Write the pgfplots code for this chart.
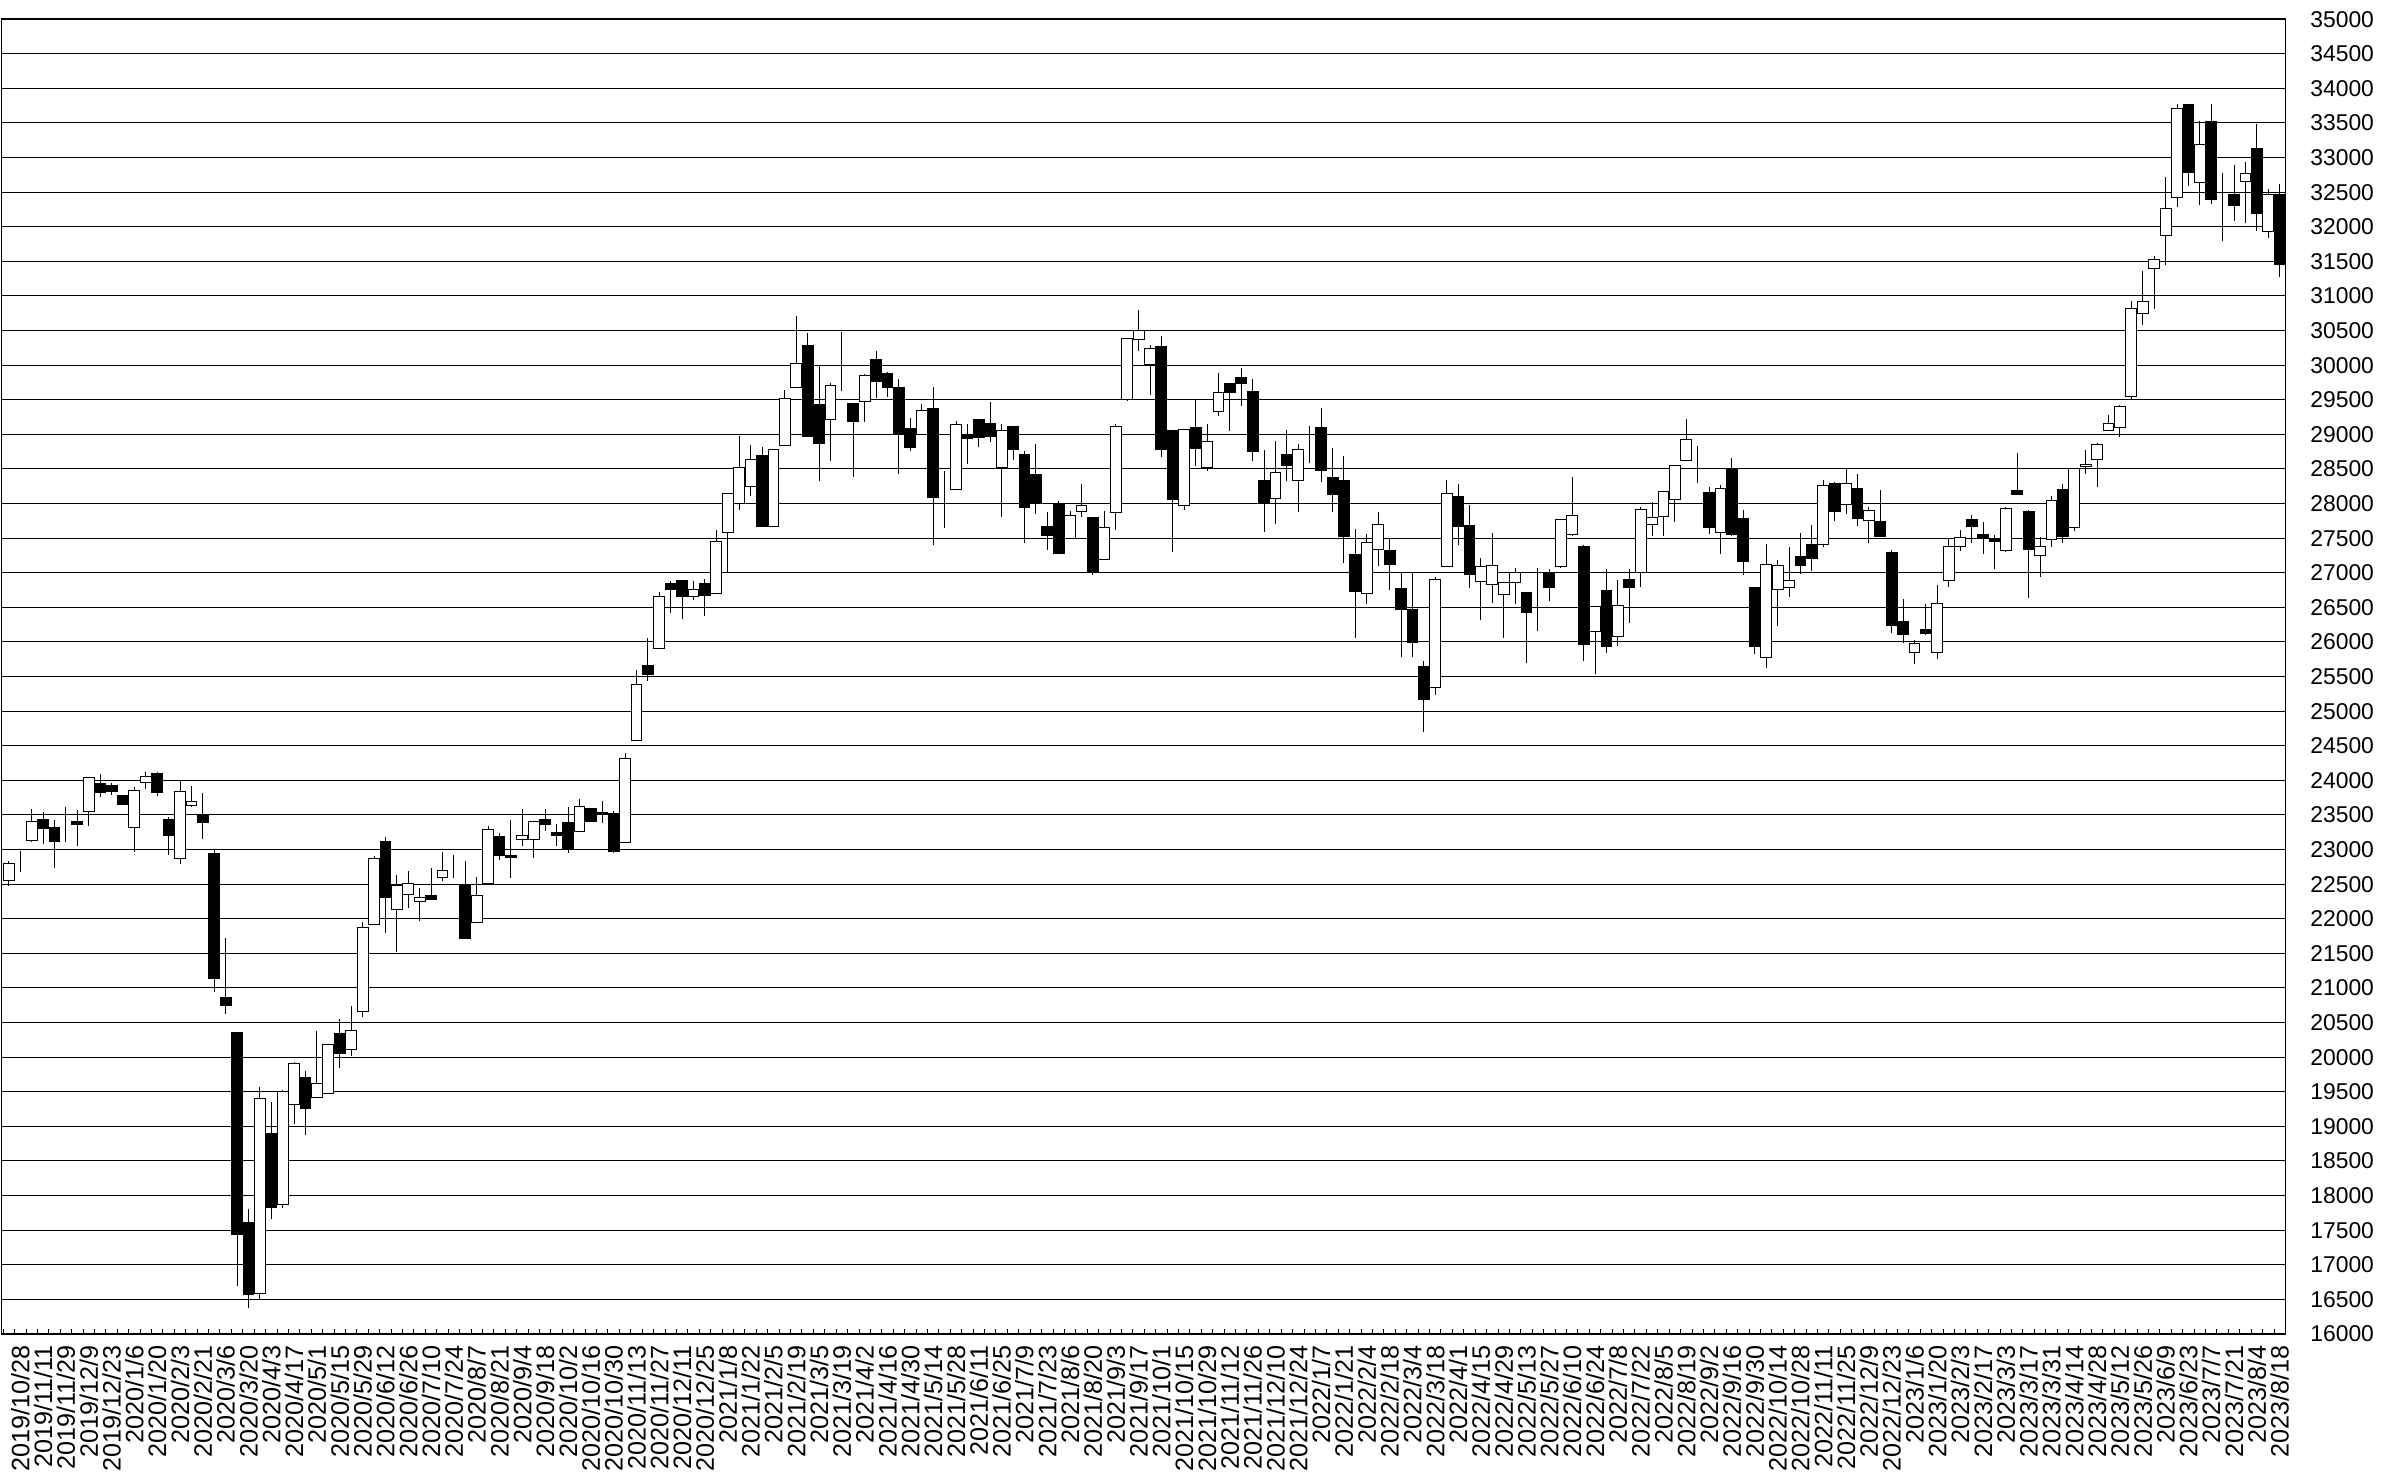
\documentclass[border=0pt]{standalone}
\usepackage{pgfplots}
\usepackage{pgfplotstable}
\pgfplotsset{compat=1.18}
\usepackage{fontspec}
\setmainfont{Liberation Sans}

% weekly candles: x o h l c
\pgfplotstableread{
x o h l c
0 22550 22830 22470 22800
1 22860 22980 22680 22860
2 23125 23590 23105 23400
3 23435 23545 23075 23305
4 23315 23425 22730 23115
5 23295 23615 23115 23295
6 23400 23570 23055 23365
7 23545 24055 23345 24035
8 23960 24095 23760 23820
9 23930 23965 23795 23835
10 23785 23785 23655 23655
11 23320 23905 22970 23855
12 23965 24120 23880 24050
13 24095 24120 23775 23825
14 23440 23475 22915 23210
15 22875 24000 22790 23835
16 23640 23915 23615 23690
17 23505 23810 23150 23390
18 22950 22990 20935 21140
19 20860 21720 20630 20750
20 20350 20350 16700 17440
21 17605 17800 16375 16565
22 16580 19570 16495 19400
23 18900 19355 17655 17825
24 17870 19520 17825 19510
25 19320 19930 19035 19905
26 19705 19800 18875 19260
27 19415 20375 19415 19625
28 19475 20190 19465 20190
29 20345 20550 19845 20050
30 20105 20740 20015 20390
31 20655 21960 20585 21875
32 21915 22910 21915 22870
33 23120 23180 21795 22305
34 22135 22625 21525 22475
35 22350 22695 22160 22515
36 22255 22450 21970 22310
37 22340 22735 22280 22285
38 22590 22960 22540 22695
39 22765 22925 22590 22765
40 22495 22840 21710 21710
41 21940 22605 21940 22330
42 22505 23335 22505 23285
43 23185 23240 22850 22915
44 22920 23420 22595 22880
45 23140 23585 23055 23205
46 23140 23400 22875 23400
47 23430 23585 23275 23355
48 23250 23370 23050 23200
49 23390 23615 22950 23020
50 23260 23725 23260 23615
51 23595 23595 23400 23400
52 23535 23705 23385 23510
53 23520 23560 22950 22970
54 23105 24390 23105 24320
55 24575 25595 24575 25390
56 25660 26060 25435 25535
57 25910 26715 25910 26650
58 26840 26875 26420 26755
59 26895 26895 26330 26660
60 26660 26875 26610 26765
61 26840 26905 26370 26665
62 26695 27615 26695 27445
63 27575 28140 27000 28140
64 28005 28980 27910 28515
65 28245 28850 28115 28630
66 28690 28820 27665 27665
67 27665 28775 27665 28775
68 28835 29635 28835 29520
69 29670 30715 29670 30020
70 30285 30460 28965 28965
71 29425 29985 28325 28870
72 29210 29745 28620 29710
73 29800 30475 29625 29800
74 29445 29445 28390 29180
75 29470 29875 29180 29855
76 30080 30210 29530 29770
77 29875 29900 29540 29680
78 29680 29805 28430 29010
79 29090 29230 28765 28810
80 28995 29435 28995 29345
81 29375 29680 27400 28085
82 28320 28475 27640 28320
83 28205 29195 28205 29145
84 29000 29145 28570 28945
85 29215 29215 28810 28955
86 29155 29470 28885 28965
87 28515 29155 27805 29060
88 29120 29120 28630 28785
89 28715 28755 27425 27940
90 28415 28860 27855 28005
91 27670 27880 27335 27545
92 28000 28035 27280 27280
93 27500 27895 27500 27825
94 27890 28280 27805 27975
95 27805 27805 26970 27000
96 27195 27895 27195 27650
97 27870 29145 27615 29120
98 29505 30380 29480 30380
99 30365 30790 30210 30495
100 30015 30295 29575 30245
101 30270 30415 28675 28775
102 29050 29050 27305 28055
103 27975 29070 27900 29070
104 29100 29490 28545 28800
105 28525 29155 28475 28890
106 29330 29885 29265 29610
107 29735 29745 29050 29610
108 29815 29960 29410 29735
109 29615 29805 28610 28755
110 28340 28775 27595 28020
111 28070 28905 27700 28445
112 28705 29060 28325 28550
113 28330 28860 27880 28785
114 28800 29120 28580 28800
115 29100 29385 28310 28475
116 28380 28800 27880 28130
117 28330 28680 27135 27530
118 27265 27630 26060 26730
119 26695 27565 26555 27435
120 27330 27880 27100 27700
121 27315 27495 26745 27120
122 26775 27000 25785 26475
123 26475 27010 25785 25990
124 25645 25725 24695 25165
125 25340 26940 25230 26905
126 27090 28340 27090 28150
127 28095 28285 27400 27665
128 27685 27975 26775 26980
129 26875 27210 26310 27090
130 26825 27575 26570 27110
131 26690 26865 26055 26865
132 26860 27075 26550 27005
133 26720 26720 25690 26430
134 26755 27065 26155 26755
135 27000 27050 26585 26785
136 27095 27780 27065 27765
137 27555 28390 27525 27830
138 27375 27395 25720 25960
139 26155 26515 25530 26510
140 26750 27060 25840 25940
141 26080 26895 25945 26520
142 26905 27060 26280 26790
143 27000 27955 26800 27910
144 27700 28020 27525 27805
145 27815 28175 27525 28175
146 28055 28545 27730 28545
147 28615 29215 28615 28930
148 28640 28835 28290 28640
149 28165 28235 27565 27650
150 27575 28275 27275 28220
151 28500 28655 27525 27555
152 27790 27910 26965 27160
153 26790 26790 25820 25940
154 25780 27410 25630 27125
155 26755 27185 26235 27100
156 26785 27375 26650 26895
157 27240 27575 26985 27100
158 27415 27695 27030 27200
159 27415 28335 27365 28260
160 28285 28310 27750 27890
161 27985 28500 27855 28285
162 28220 28420 27670 27780
163 27750 27950 27425 27900
164 27745 28200 27530 27530
165 27290 27335 26130 26235
166 26300 26620 25980 26105
167 25845 26035 25675 25975
168 26180 26550 26105 26120
169 25845 26825 25760 26560
170 26885 27495 26800 27385
171 27385 27615 27315 27510
172 27765 27830 27430 27670
173 27555 27730 27275 27500
174 27500 27540 27050 27455
175 27315 27955 27300 27935
176 28185 28735 28130 28130
177 27890 27910 26640 27335
178 27255 27515 26945 27385
179 27480 28115 27365 28045
180 28210 28280 27430 27520
181 27660 28520 27605 28500
182 28530 28770 28425 28560
183 28630 28880 28245 28855
184 29055 29275 29055 29155
185 29105 29430 28960 29400
186 29545 30925 29495 30820
187 30740 31365 30580 30925
188 31390 31570 30805 31530
189 31870 32720 31440 32265
190 32420 33770 32285 33710
191 33770 33770 32590 32780
192 32645 33530 32320 33195
193 33520 33770 32335 32390
194 32390 32780 31800 32390
195 32465 32895 32085 32310
196 32655 32935 32050 32765
197 33135 33485 31945 32190
198 31930 32550 31840 32470
199 32465 32620 31280 31450
}\candles

\pgfplotsset{
  frame/.style={
    scale only axis,
    width=689.1pt, height=396.7pt,
    xmin=-0.65, xmax=199.5,
    ymin=16000, ymax=35000,
  },
}

\begin{document}
\begin{tikzpicture}
\begin{axis}[
  frame,
  axis line style={black, line width=0.5pt},
  ytick={16000,16500,...,35000},
  scaled y ticks=false,
  ymajorgrids,
  major grid style={black, line width=0.3pt},
  yticklabel pos=right,
  ytick style={draw=none},
  yticklabel style={font=\fontsize{6.9}{7}\selectfont, xshift=4pt},
  /pgf/number format/.cd, fixed, 1000 sep={}, assume math mode=true,
  /pgfplots/.cd,
  xtick={1,3,...,199},
  xticklabels={2019/10/28,2019/11/11,2019/11/29,2019/12/9,2019/12/23,
    2020/1/6,2020/1/20,2020/2/3,2020/2/21,2020/3/6,2020/3/20,2020/4/3,2020/4/17,
    2020/5/1,2020/5/15,2020/5/29,2020/6/12,2020/6/26,2020/7/10,2020/7/24,
    2020/8/7,2020/8/21,2020/9/4,2020/9/18,2020/10/2,2020/10/16,2020/10/30,
    2020/11/13,2020/11/27,2020/12/11,2020/12/25,
    2021/1/8,2021/1/22,2021/2/5,2021/2/19,2021/3/5,2021/3/19,2021/4/2,2021/4/16,
    2021/4/30,2021/5/14,2021/5/28,2021/6/11,2021/6/25,2021/7/9,2021/7/23,
    2021/8/6,2021/8/20,2021/9/3,2021/9/17,2021/10/1,2021/10/15,2021/10/29,
    2021/11/12,2021/11/26,2021/12/10,2021/12/24,
    2022/1/7,2022/1/21,2022/2/4,2022/2/18,2022/3/4,2022/3/18,2022/4/1,2022/4/15,
    2022/4/29,2022/5/13,2022/5/27,2022/6/10,2022/6/24,2022/7/8,2022/7/22,
    2022/8/5,2022/8/19,2022/9/2,2022/9/16,2022/9/30,2022/10/14,2022/10/28,
    2022/11/11,2022/11/25,2022/12/9,2022/12/23,
    2023/1/6,2023/1/20,2023/2/3,2023/2/17,2023/3/3,2023/3/17,2023/3/31,
    2023/4/14,2023/4/28,2023/5/12,2023/5/26,2023/6/9,2023/6/23,2023/7/7,
    2023/7/21,2023/8/4,2023/8/18},
  xticklabel style={rotate=90, anchor=east, font=\fontsize{7.6}{8}\selectfont},
  major x tick style={draw=none},
  minor xtick={-0.5,0.5,...,199.5},
  minor x tick style={black, line width=0.3pt},
  minor tick length=1.5pt,
  tick align=inside,
  xtick pos=bottom,
]
% wicks
\addplot[draw=none, mark=none,
  error bars/.cd, y dir=plus, y explicit, error mark=none,
  error bar style={draw=black, line width=0.3pt}]
  table[x=x, y=l, y error plus expr=\thisrow{h}-\thisrow{l}] {\candles};
\end{axis}
\begin{axis}[
  frame, hide axis,
  ybar stacked, bar width=0.95,
]
% bodies: invisible base, rising (white), falling (black)
\addplot[draw=none, fill=none]
  table[x=x, y expr={min(\thisrow{o},\thisrow{c})}] {\candles};
\addplot[draw=black, fill=white, line width=0.3pt]
  table[x=x, y expr={max(\thisrow{c}-\thisrow{o},0)}] {\candles};
\addplot[draw=black, fill=black, line width=0.3pt]
  table[x=x, y expr={max(\thisrow{o}-\thisrow{c},0)}] {\candles};
\end{axis}
\end{tikzpicture}
\end{document}
